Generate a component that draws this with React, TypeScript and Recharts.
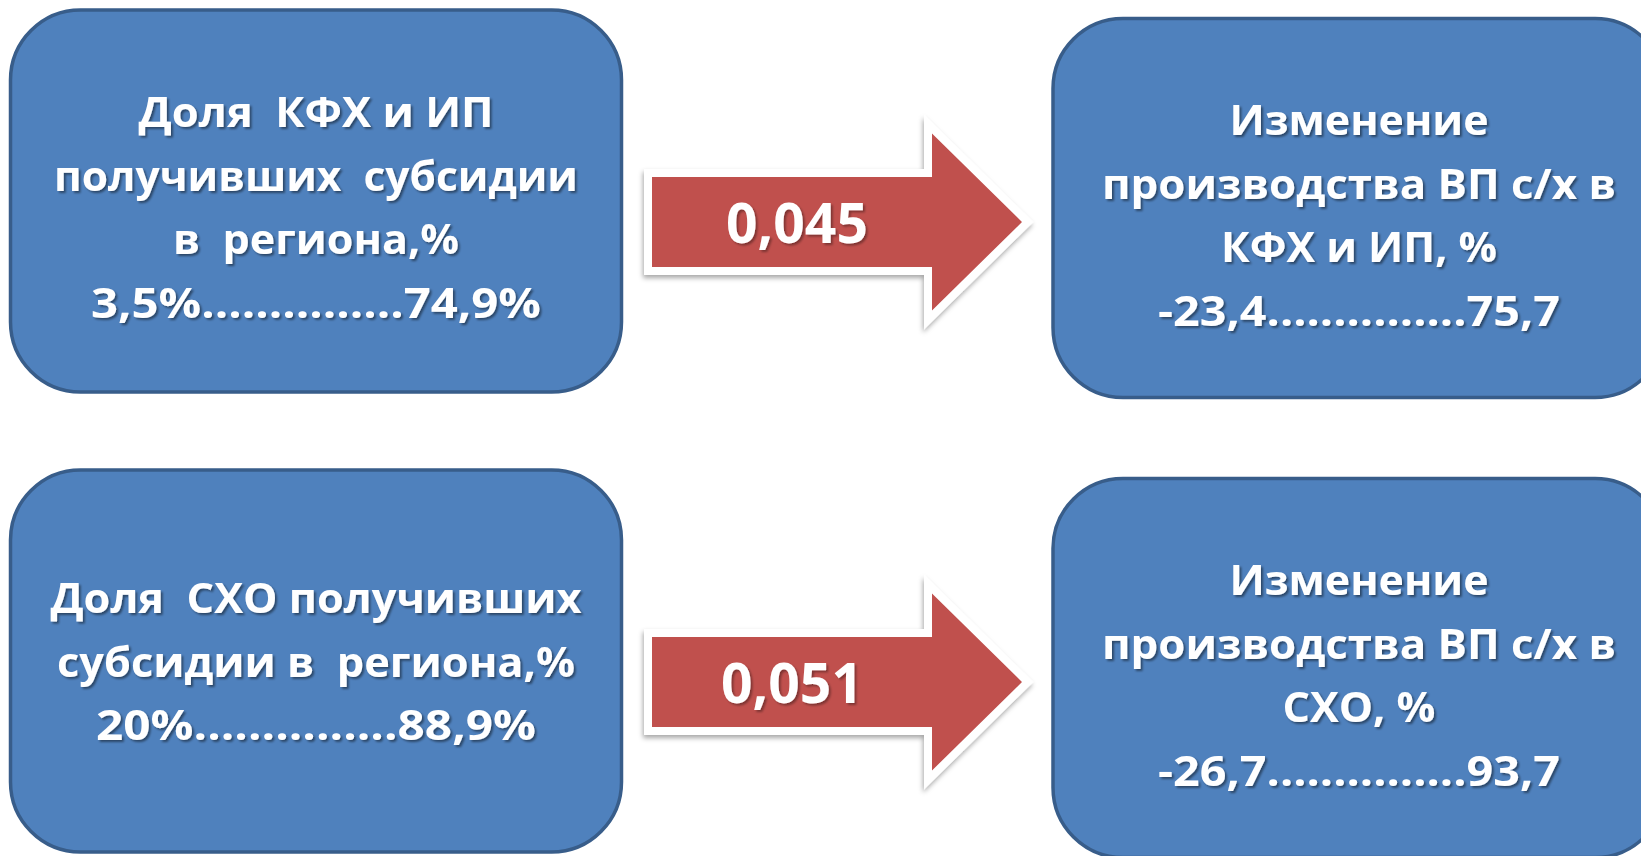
import { Scatter, ScatterChart, XAxis, YAxis } from 'recharts'

const WIDTH = 1641
const HEIGHT = 856

// text content
const sourceLines = [
  ['Доля  КФХ и ИП', 'получивших  субсидии', 'в  региона,%'],
  ['Доля  СХО получивших', 'субсидии в  региона,%'],
]
const sourceRanges = [
  ['3,5%', '74,9%'],
  ['20%', '88,9%'],
]
const targetLines = [
  ['Изменение', 'производства ВП с/х в', 'КФХ и ИП, %'],
  ['Изменение', 'производства ВП с/х в', 'СХО, %'],
]
const targetRanges = [
  ['-23,4', '75,7'],
  ['-26,7', '93,7'],
]
const coefficients = ['0,045', '0,051']

const DOTS = '...............'

// layout (pixel units == axis units)
const sourceLayout = [
  { x: 316, y: 201, w: 611, h: 382, firstBaseline: 127, widths: [355, 524, 286, 450] },
  { x: 316, y: 661, w: 611, h: 382, firstBaseline: 613, widths: [531, 518, 440] },
]
const targetLayout = [
  { x: 1359, y: 208, w: 612, h: 379, firstBaseline: 135, widths: [259, 514, 276, 402] },
  { x: 1359, y: 668, w: 612, h: 379, firstBaseline: 595, widths: [259, 514, 153, 402] },
]
const arrowLayout = [
  { x: 837, y: 222, labelDx: -40, labelDy: 21, labelWidth: 142 },
  { x: 837, y: 682, labelDx: -45, labelDy: 21, labelWidth: 142 },
]

const LINE_HEIGHT = 63.5
const FONT = '"Open Sans", "Noto Sans", sans-serif'

const boxRows = [
  ...sourceLines.map((lines, i) => ({
    id: `s${i}`,
    ...sourceLayout[i],
    lines: [...lines, `${sourceRanges[i][0]}${DOTS}${sourceRanges[i][1]}`],
  })),
  ...targetLines.map((lines, i) => ({
    id: `t${i}`,
    ...targetLayout[i],
    lines: [...lines, `${targetRanges[i][0]}${DOTS}${targetRanges[i][1]}`],
  })),
]

const arrowRows = coefficients.map((label, i) => ({ id: `a${i}`, label, ...arrowLayout[i] }))

function BoxShape(props: any) {
  const { cx, cy, payload } = props
  if (cx == null || cy == null) return null
  const { w, h, lines, widths, firstBaseline, id } = payload
  const top = cy - h / 2
  const shift = firstBaseline - payload.y
  return (
    <g>
      <defs>
        <filter id={`ts-${id}`} x="-10%" y="-30%" width="120%" height="160%">
          <feDropShadow dx="2" dy="2" stdDeviation="1.2" floodColor="#000" floodOpacity="0.45" />
        </filter>
      </defs>
      <rect
        x={cx - w / 2}
        y={top}
        width={w}
        height={h}
        rx={70}
        ry={70}
        fill="#4F81BD"
        stroke="#385D8A"
        strokeWidth={3.5}
      />
      <g filter={`url(#ts-${id})`}>
        {lines.map((line: string, i: number) => (
          <text
            key={i}
            x={cx}
            y={cy + shift + i * LINE_HEIGHT}
            textAnchor="middle"
            fill="#fff"
            fontFamily={FONT}
            fontWeight={700}
            fontSize={41}
            textLength={widths[i]}
            lengthAdjust="spacingAndGlyphs"
            style={{ whiteSpace: 'pre' }}
          >
            {line}
          </text>
        ))}
      </g>
    </g>
  )
}

function ArrowShape(props: any) {
  const { cx, cy, payload } = props
  if (cx == null || cy == null) return null
  const { id, label, labelDx, labelDy, labelWidth } = payload
  const path = [
    `M ${cx - 185} ${cy - 45}`,
    `L ${cx + 95} ${cy - 45}`,
    `L ${cx + 95} ${cy - 88.5}`,
    `L ${cx + 185} ${cy}`,
    `L ${cx + 95} ${cy + 88.5}`,
    `L ${cx + 95} ${cy + 45}`,
    `L ${cx - 185} ${cy + 45}`,
    'Z',
  ].join(' ')
  return (
    <g>
      <defs>
        <filter id={`as-${id}`} x="-10%" y="-20%" width="120%" height="140%">
          <feDropShadow dx="-1" dy="3" stdDeviation="2.5" floodColor="#000" floodOpacity="0.35" />
        </filter>
        <filter id={`al-${id}`} x="-10%" y="-30%" width="120%" height="160%">
          <feDropShadow dx="2" dy="2" stdDeviation="1.2" floodColor="#000" floodOpacity="0.35" />
        </filter>
      </defs>
      <path d={path} fill="#fff" stroke="#fff" strokeWidth={16} strokeLinejoin="miter" strokeMiterlimit={10} filter={`url(#as-${id})`} />
      <path d={path} fill="#C0504D" />
      <text
        x={cx + labelDx}
        y={cy + labelDy}
        textAnchor="middle"
        fill="#fff"
        fontFamily={FONT}
        fontWeight={700}
        fontSize={56}
        textLength={labelWidth}
        lengthAdjust="spacingAndGlyphs"
        filter={`url(#al-${id})`}
      >
        {label}
      </text>
    </g>
  )
}

export default function App() {
  return (
    <div style={{ position: 'absolute', left: 0, top: 0, width: WIDTH, height: HEIGHT, background: '#fff' }}>
      <ScatterChart width={WIDTH} height={HEIGHT} margin={{ top: 0, right: 0, bottom: 0, left: 0 }}>
        <XAxis type="number" dataKey="x" domain={[0, WIDTH]} hide />
        <YAxis type="number" dataKey="y" domain={[0, HEIGHT]} reversed hide />
        <Scatter data={boxRows} shape={<BoxShape />} isAnimationActive={false} />
        <Scatter data={arrowRows} shape={<ArrowShape />} isAnimationActive={false} />
      </ScatterChart>
    </div>
  )
}
